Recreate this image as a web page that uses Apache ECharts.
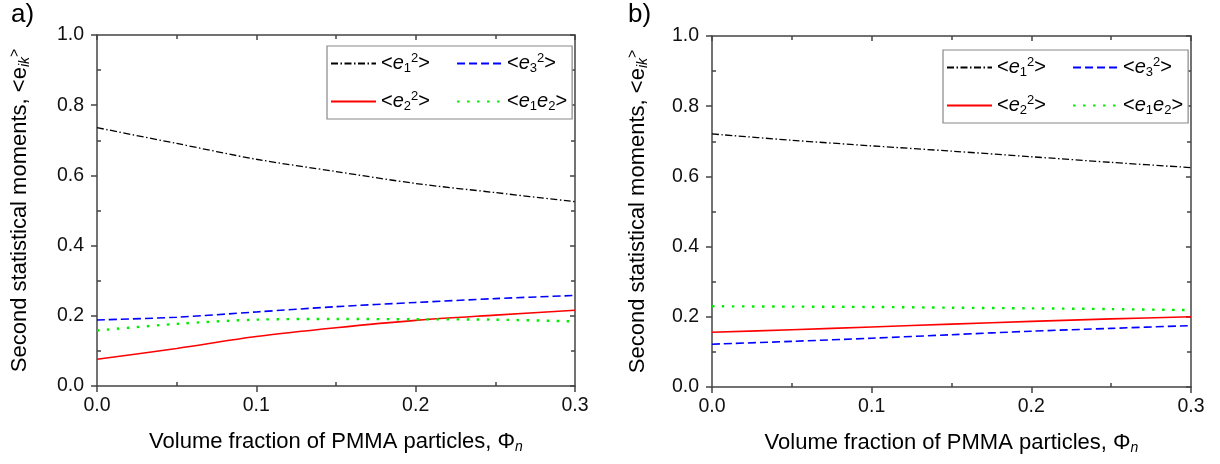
<!DOCTYPE html>
<html>
<head>
<meta charset="utf-8">
<title>Second statistical moments vs PMMA volume fraction</title>
<script src="https://cdn.jsdelivr.net/npm/echarts@6/dist/echarts.min.js"></script>
<style>
  html, body { margin: 0; padding: 0; background: #fff; }
  #chart { width: 1220px; height: 464px; }
</style>
</head>
<body>
<div id="chart"></div>
<script>
// Volume fraction of PMMA particles (x values shared by both panels)
const phi = [0, 0.05, 0.1, 0.15, 0.2, 0.25, 0.3];
const xTicks = ['0.0', '0.1', '0.2', '0.3'];
const yTicks = ['0.0', '0.2', '0.4', '0.6', '0.8', '1.0'];

// Panel a) second statistical moments
const aE11 = [0.736, 0.691, 0.646, 0.611, 0.577, 0.551, 0.525];
const aE22 = [0.076, 0.107, 0.141, 0.166, 0.187, 0.202, 0.216];
const aE33 = [0.188, 0.196, 0.211, 0.226, 0.238, 0.249, 0.258];
const aE12 = [0.158, 0.177, 0.189, 0.191, 0.190, 0.189, 0.184];

// Panel b) second statistical moments
const bE11 = [0.721, 0.703, 0.687, 0.672, 0.656, 0.640, 0.625];
const bE22 = [0.156, 0.163, 0.171, 0.179, 0.187, 0.194, 0.200];
const bE33 = [0.122, 0.130, 0.139, 0.149, 0.159, 0.167, 0.175];
const bE12 = [0.230, 0.229, 0.228, 0.226, 0.224, 0.222, 0.219];

const FONT = '"Liberation Sans", Arial, sans-serif';
const AXIS_COLOR = '#444';
const NBSP2 = '\u00a0\u00a0';

// Legend labels as rich text: <e_1^2>, <e_3^2>, <e_2^2>, <e_1 e_2>
const legendRich = {
  n: { fontSize: 20, fontFamily: FONT, color: '#000' },
  e: { fontSize: 20, fontFamily: FONT, color: '#000', fontStyle: 'italic' },
  sb: { fontSize: 13, fontFamily: FONT, color: '#000', padding: [10, 0, 0, 0] },
  sp: { fontSize: 13, fontFamily: FONT, color: '#000', padding: [0, 0, 10, 0] }
};
// left-column labels carry two trailing spaces so the right column lines up
const legendText = {
  e11: '{n|<}{e|e}{sb|1}{sp|2}{n|>' + NBSP2 + '}',
  e33: '{n|<}{e|e}{sb|3}{sp|2}{n|>}',
  e22: '{n|<}{e|e}{sb|2}{sp|2}{n|>' + NBSP2 + '}',
  e12: '{n|<}{e|e}{sb|1}{e|e}{sb|2}{n|>}'
};

const styles = {
  e11: { color: '#000000', width: 1.3, type: [7, 2.5, 1.5, 2.5] },
  e22: { color: '#ff0000', width: 1.6, type: 'solid' },
  e33: { color: '#0000ff', width: 1.6, type: [8, 4] },
  e12: { color: '#00ee00', width: 2.4, type: [2.5, 7.5] }
};

const titleRich = {
  n: { fontSize: 22, fontFamily: FONT, color: '#000' },
  sb: { fontSize: 14, fontFamily: FONT, color: '#000', fontStyle: 'italic', padding: [10, 0, 0, 0] },
  sp: { fontSize: 14, fontFamily: FONT, color: '#000', padding: [0, 0, 10, 0] }
};

const grids = [
  { left: 97, top: 35, width: 478, height: 351, outerBoundsMode: 'none' },
  { left: 712, top: 36, width: 479, height: 351, outerBoundsMode: 'none' }
];

function fmt(v) { return v.toFixed(1); }

const xAxes = [], yAxes = [];
[0, 1].forEach(function (g) {
  // bottom axis: labelled, major ticks outward, minor ticks inward
  xAxes.push({
    type: 'value', gridIndex: g, position: 'bottom', min: 0, max: 0.3, interval: 0.1,
    name: '{n|Volume fraction of PMMA particles, Φ}{sb|n}',
    nameLocation: 'middle', nameGap: 44,
    nameTextStyle: { rich: titleRich },
    axisLine: { show: true, lineStyle: { color: AXIS_COLOR, width: 1.5 } },
    axisTick: { show: true, inside: false, length: 6, lineStyle: { color: AXIS_COLOR, width: 1.5 } },
    minorTick: { show: true, splitNumber: 2, length: -4, lineStyle: { color: AXIS_COLOR, width: 1.5 } },
    axisLabel: { margin: 10, fontSize: 19.5, fontFamily: FONT, color: '#111',
      formatter: function (v) { return xTicks[Math.round(v * 10)] || fmt(v); } },
    splitLine: { show: false }
  });
  // top frame axis: ticks inward, no labels
  xAxes.push({
    type: 'value', gridIndex: g, position: 'top', min: 0, max: 0.3, interval: 0.1,
    axisLine: { show: true, onZero: false, lineStyle: { color: AXIS_COLOR, width: 1.5 } },
    axisTick: { show: true, inside: true, length: 5, lineStyle: { color: AXIS_COLOR, width: 1.5 } },
    minorTick: { show: true, splitNumber: 2, length: 4, lineStyle: { color: AXIS_COLOR, width: 1.5 } },
    axisLabel: { show: false },
    splitLine: { show: false }
  });
  // left axis: labelled
  yAxes.push({
    type: 'value', gridIndex: g, position: 'left', min: 0, max: 1, interval: 0.2,
    name: '{n|Second statistical moments, <e}{sb|ik}{sp|>}',
    nameLocation: 'middle', nameGap: g === 0 ? 65 : 62, nameRotate: 90,
    nameTextStyle: { rich: titleRich },
    axisLine: { show: true, lineStyle: { color: AXIS_COLOR, width: 1.5 } },
    axisTick: { show: true, inside: false, length: 6, lineStyle: { color: AXIS_COLOR, width: 1.5 } },
    minorTick: { show: true, splitNumber: 2, length: -4, lineStyle: { color: AXIS_COLOR, width: 1.5 } },
    axisLabel: { margin: 13, fontSize: 19.5, fontFamily: FONT, color: '#111',
      formatter: function (v) { return yTicks[Math.round(v * 5)] || fmt(v); } },
    splitLine: { show: false }
  });
  // right frame axis
  yAxes.push({
    type: 'value', gridIndex: g, position: 'right', min: 0, max: 1, interval: 0.2,
    axisLine: { show: true, onZero: false, lineStyle: { color: AXIS_COLOR, width: 1.5 } },
    axisTick: { show: true, inside: true, length: 5, lineStyle: { color: AXIS_COLOR, width: 1.5 } },
    minorTick: { show: true, splitNumber: 2, length: 4, lineStyle: { color: AXIS_COLOR, width: 1.5 } },
    axisLabel: { show: false },
    splitLine: { show: false }
  });
});

function pairs(ys) { return phi.map(function (x, i) { return [x, ys[i]]; }); }

const panels = [
  { key: 'a', g: 0, data: { e11: aE11, e22: aE22, e33: aE33, e12: aE12 } },
  { key: 'b', g: 1, data: { e11: bE11, e22: bE22, e33: bE33, e12: bE12 } }
];

const series = [];
const legends = [];
const legendPos = [{ left: 327, top: 46 }, { left: 943, top: 50 }];

panels.forEach(function (p) {
  ['e11', 'e33', 'e22', 'e12'].forEach(function (k) {
    series.push({
      name: p.key + ':' + k,
      type: 'line',
      xAxisIndex: p.g * 2,
      yAxisIndex: p.g * 2,
      data: pairs(p.data[k]),
      symbol: 'none',
      smooth: 0.3,
      lineStyle: styles[k],
      itemStyle: { color: styles[k].color },
      silent: true,
      z: k === 'e11' ? 3 : 2
    });
  });
  legends.push({
    show: true,
    left: legendPos[p.g].left,
    top: legendPos[p.g].top,
    width: 262,
    orient: 'horizontal',
    selectedMode: false,
    data: ['e11', 'e33', 'e22', 'e12'].map(function (k) { return p.key + ':' + k; }),
    itemWidth: 45,
    itemHeight: 14,
    itemGap: 15,
    padding: [6, 5, 6, 3],
    borderColor: '#888',
    borderWidth: 1.2,
    backgroundColor: '#fff',
    itemStyle: { opacity: 0 },
    formatter: function (name) { return legendText[name.split(':')[1]]; },
    textStyle: { rich: legendRich }
  });
});

const chart = echarts.init(document.getElementById('chart'), null, { renderer: 'canvas' });
chart.setOption({
  animation: false,
  backgroundColor: '#ffffff',
  grid: grids,
  xAxis: xAxes,
  yAxis: yAxes,
  legend: legends,
  series: series,
  graphic: [
    { type: 'text', left: 11, top: 2, style: { text: 'a)', fontSize: 26, fontFamily: FONT, fill: '#000' } },
    { type: 'text', left: 628, top: 2, style: { text: 'b)', fontSize: 26, fontFamily: FONT, fill: '#000' } }
  ]
});
</script>
</body>
</html>
